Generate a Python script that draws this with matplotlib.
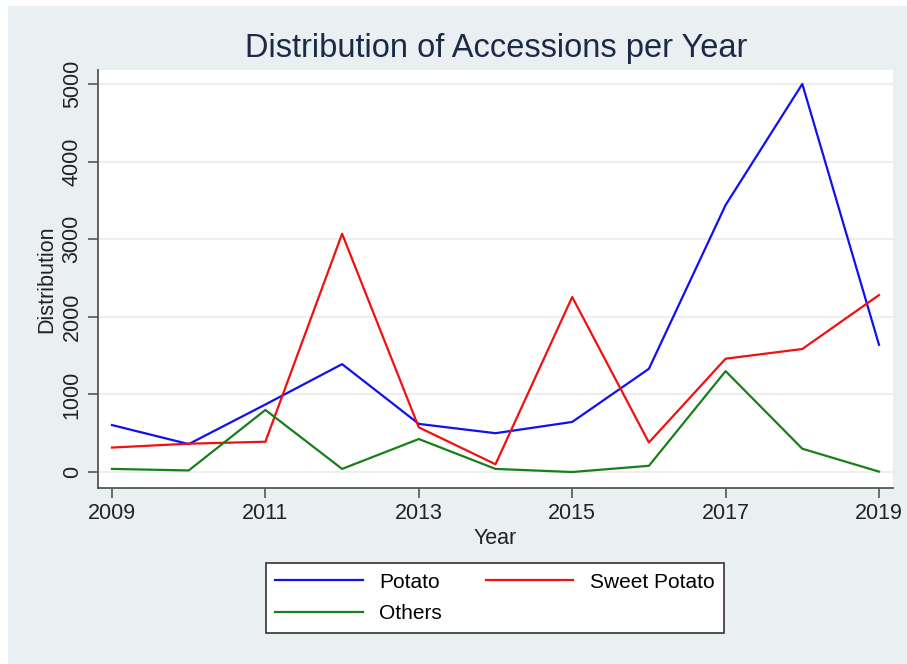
import numpy as np
import matplotlib.pyplot as plt
from matplotlib.patches import Rectangle

# Accessions distributed per year
years = [2009, 2010, 2011, 2012, 2013, 2014, 2015, 2016, 2017, 2018, 2019]
potato = [605, 360, 870, 1390, 620, 500, 645, 1330, 3440, 5000, 1640]
sweet_potato = [315, 365, 390, 3070, 575, 100, 2255, 380, 1460, 1585, 2280]
others = [40, 20, 800, 40, 425, 40, 0, 80, 1300, 300, 5]

xticks = [2009, 2011, 2013, 2015, 2017, 2019]
yticks = [0, 1000, 2000, 3000, 4000, 5000]

plt.rcParams['font.family'] = ['Liberation Sans', 'DejaVu Sans']

fondo = '#eaeff2'
fig = plt.figure(figsize=(9.07, 6.64), dpi=100, facecolor='white')
# panel gris detras de todo
fig.patches.append(Rectangle((8 / 907, 0), 1, 1 - 6 / 664, transform=fig.transFigure,
                             facecolor=fondo, edgecolor='none', zorder=-10))

ax = fig.add_axes([98 / 907, 1 - 488 / 664, (893 - 98) / 907, (488 - 70) / 664])
ax.set_facecolor('white')

l1, = ax.plot(years, potato, color='#1010f0', lw=1.6, label='Potato')
l2, = ax.plot(years, sweet_potato, color='#f01010', lw=1.6, label='Sweet Potato')
l3, = ax.plot(years, others, color='#1a7f1a', lw=1.6, label='Others')

ax.set_xlim(2009 - 14 / 76.7, 2019 + 14 / 76.7)
ax.set_ylim(-206, 5180)
ax.set_xticks(xticks)
ax.set_yticks(yticks)
ax.grid(axis='y', color='#eeeeee', lw=1.5)
ax.set_axisbelow(True)

for s in ['top', 'right']:
    ax.spines[s].set_visible(False)
for s in ['left', 'bottom']:
    ax.spines[s].set_color('#555555')
    ax.spines[s].set_linewidth(1.3)

ax.tick_params(axis='both', direction='out', length=7, width=1.2, color='#555555',
               labelsize=15.5, labelcolor='#222222', pad=4)
for t in ax.get_yticklabels():
    t.set_rotation(90)
    t.set_va('center')

ax.set_xlabel('Year', fontsize=15.5, color='#222222', labelpad=3)
ax.set_ylabel('Distribution', fontsize=15.5, color='#222222', labelpad=3)
fig.text(496 / 907, 1 - 48 / 664, 'Distribution of Accessions per Year', ha='center', va='center',
         fontsize=23.5, color='#1c2a48')

# orden por columnas: Potato/Others a la izquierda, Sweet Potato a la derecha
leg = fig.legend(handles=[l1, l3, l2], ncol=2, loc='center',
                 bbox_to_anchor=(495 / 907, 1 - 598 / 664), fontsize=15,
                 frameon=True, fancybox=False, edgecolor='#333333', framealpha=1,
                 handlelength=4.2, handletextpad=0.8, columnspacing=2.1,
                 borderpad=0.45, labelspacing=0.6)
leg.get_frame().set_linewidth(1.2)

fig.savefig('out.png', dpi=100, facecolor=fig.get_facecolor())
